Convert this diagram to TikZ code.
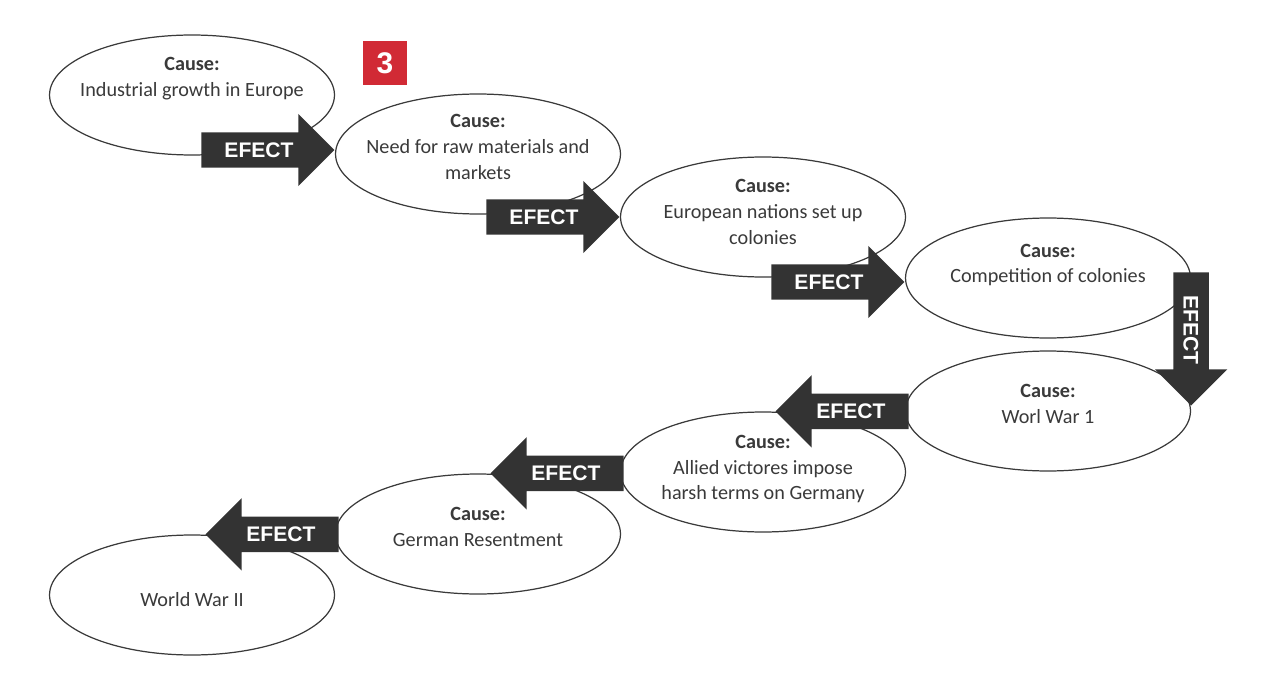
\documentclass[tikz,border=0pt]{standalone}
\usepackage{fontspec}
\setmainfont{Carlito}
\newfontfamily\efectfont{Liberation Sans}
\usetikzlibrary{shapes.geometric,shapes.arrows}
\definecolor{ink}{HTML}{3A3A3A}
\definecolor{arrowgray}{HTML}{333333}
\definecolor{numred}{HTML}{D12A35}
\tikzset{
  oval/.style = {ellipse, draw = ink, line width = 0.7pt, fill = white,
    minimum width = 5.7cm, minimum height = 2.4cm, inner sep = 0pt},
  txt/.style = {align = center, text = ink, font = \fontsize{11.5}{14.7}\selectfont, inner sep = 0pt},
  efect/.style = {single arrow, fill = arrowgray, text = white,
    font = \efectfont\bfseries\fontsize{12}{13}\selectfont,
    text height = 8.5pt, text depth = 0pt, inner xsep = 13pt, inner ysep = 5.6pt,
    single arrow head extend = 0.37cm, single arrow tip angle = 90,
    minimum width = 0pt, minimum height = 0pt}
}
\begin{document}
\begin{tikzpicture}[x = 0.02cm, y = -0.02cm]
\useasboundingbox (0,0) rectangle (1280,689);
% ellipses
\foreach \n/\x/\y in {e1/192/95, e2/478/154, e3/763/217, e4/1048/278,
                      e5/1048/411, e6/763/472, e7/478/534, e8/192/595}
{
	\node[oval] (\n) at (\x,\y) {};
}
% texts
\node[txt] (t1) at (192,79) {\textbf{Cause:}\\Industrial growth in Europe};
\node[txt] (t2) at (478,147) {\textbf{Cause:}\\Need for raw materials and\\markets};
\node[txt] (t3) at (763,212) {\textbf{Cause:}\\European nations set up\\colonies};
\node[txt] (t4) at (1048,265) {\textbf{Cause:}\\Competition of colonies};
\node[txt] (t5) at (1048,404) {\textbf{Cause:}\\Worl War 1};
\node[txt] (t6) at (763,469) {\textbf{Cause:}\\Allied victores impose\\harsh terms on Germany};
\node[txt] (t7) at (478,527) {\textbf{Cause:}\\German Resentment};
\node[txt] (t8) at (192,600) {World War II};
% effect arrows
\node[efect, anchor = tip] (a1) at ([yshift = 0.08cm]e2.west) {EFECT};
\node[efect, anchor = tip] (a2) at (e3.west) {EFECT};
\node[efect, anchor = tip] (a3) at ([yshift = -0.08cm]e4.west) {EFECT};
\node[efect, rotate = -90, anchor = tip] (a4) at ([yshift = 0.1cm]e5.east) {EFECT};
\node[efect, shape border rotate = 180, anchor = tip] (a5) at ([xshift = 0.24cm]e6.north) {EFECT};
\node[efect, shape border rotate = 180, anchor = tip] (a6) at ([xshift = 0.24cm]e7.north) {EFECT};
\node[efect, shape border rotate = 180, anchor = tip] (a7) at ([xshift = 0.26cm]e8.north) {EFECT};
% number
\node[fill = numred, text = white, minimum size = 0.88cm, inner sep = 0pt,
      font = \efectfont\bfseries\fontsize{17}{18}\selectfont] (num) at (385,63) {3};
\end{tikzpicture}
\end{document}
